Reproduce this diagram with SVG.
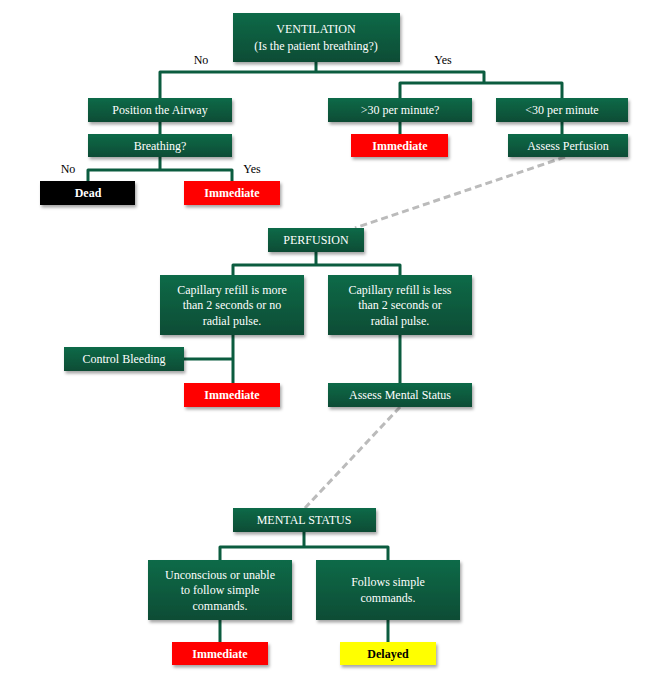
<svg xmlns="http://www.w3.org/2000/svg" width="670" height="687" viewBox="0 0 670 687">
<defs>
<linearGradient id="g" x1="0" y1="0" x2="0" y2="1"><stop offset="0" stop-color="#0c6a48"/><stop offset="1" stop-color="#0a4c35"/></linearGradient>
<filter id="sh" x="-10%" y="-10%" width="130%" height="150%"><feDropShadow dx="1.5" dy="2.5" stdDeviation="1.5" flood-color="#000" flood-opacity="0.35"/></filter>
</defs>
<style>
.b{fill:url(#g);filter:url(#sh)}
.r{fill:#ff0000;filter:url(#sh)}
.k{fill:#000;filter:url(#sh)}
.y{fill:#ffff00;filter:url(#sh)}
text{font-family:"Liberation Serif",serif;font-size:12px;text-anchor:middle}
.w{fill:#fff}
.bw{fill:#fff;font-weight:bold}
.bk{fill:#000;font-weight:bold}
.l{fill:#000}
.c{fill:none;stroke:#0b5c3f;stroke-width:3;stroke-linejoin:round}
.d{fill:none;stroke:#bbbbbb;stroke-width:3;stroke-dasharray:7,4}
</style>
<g id="connectors">
<path class="c" d="M316,62V72M160,98V72H484V83M400,98V83H562V98M160,122V134M400,122V134M562,122V134M160,157V170M88,181V170H232V181"/>
<path class="c" d="M316,252V265M233,275V265H400V275M233,335V383M184,359H233M400,335V383"/>
<path class="c" d="M304,532V547M220,560V547H388V560M220,620V642M388,620V642"/>
<path class="d" d="M565,157L355,228M400,407L305,508"/>
</g>
<text class="l" x="201" y="64">No</text>
<text class="l" x="443" y="64">Yes</text>
<text class="l" x="68" y="173">No</text>
<text class="l" x="252" y="173">Yes</text>
<g id="ventilation"><rect class="b" x="233" y="13" width="167" height="49"/><text class="w" x="316" y="33">VENTILATION</text><text class="w" x="316" y="50">(Is the patient breathing?)</text></g>
<g id="airway"><rect class="b" x="88" y="98" width="144" height="24"/><text class="w" x="160" y="114">Position the Airway</text></g>
<g id="over30"><rect class="b" x="328" y="98" width="144" height="24"/><text class="w" x="400" y="114">&gt;30 per minute?</text></g>
<g id="under30"><rect class="b" x="496" y="98" width="132" height="24"/><text class="w" x="562" y="114">&lt;30 per minute</text></g>
<g id="breathing"><rect class="b" x="88" y="134" width="144" height="23"/><text class="w" x="160" y="150">Breathing?</text></g>
<g id="imm1"><rect class="r" x="351" y="134" width="97" height="23"/><text class="bw" x="400" y="150">Immediate</text></g>
<g id="assessPerf"><rect class="b" x="508" y="134" width="120" height="23"/><text class="w" x="568" y="150">Assess Perfusion</text></g>
<g id="dead"><rect class="k" x="40" y="181" width="95" height="24"/><text class="bw" x="88" y="197">Dead</text></g>
<g id="imm2"><rect class="r" x="184" y="181" width="96" height="24"/><text class="bw" x="232" y="197">Immediate</text></g>
<g id="perfusion"><rect class="b" x="268" y="228" width="96" height="24"/><text class="w" x="316" y="244">PERFUSION</text></g>
<g id="capMore"><rect class="b" x="160" y="275" width="144" height="60"/><text class="w" x="232" y="294">Capillary refill is more</text><text class="w" x="232" y="309">than 2 seconds or no</text><text class="w" x="232" y="325">radial pulse.</text></g>
<g id="capLess"><rect class="b" x="328" y="275" width="144" height="60"/><text class="w" x="400" y="294">Capillary refill is less</text><text class="w" x="400" y="309">than 2 seconds or</text><text class="w" x="400" y="325">radial pulse.</text></g>
<g id="bleeding"><rect class="b" x="64" y="347" width="120" height="24"/><text class="w" x="124" y="363">Control Bleeding</text></g>
<g id="imm3"><rect class="r" x="184" y="383" width="96" height="24"/><text class="bw" x="232" y="399">Immediate</text></g>
<g id="assessMental"><rect class="b" x="328" y="383" width="144" height="24"/><text class="w" x="400" y="399">Assess Mental Status</text></g>
<g id="mental"><rect class="b" x="233" y="508" width="143" height="24"/><text class="w" x="304" y="524">MENTAL STATUS</text></g>
<g id="uncons"><rect class="b" x="148" y="560" width="144" height="60"/><text class="w" x="220" y="579">Unconscious or unable</text><text class="w" x="220" y="594">to follow simple</text><text class="w" x="220" y="610">commands.</text></g>
<g id="follows"><rect class="b" x="316" y="560" width="144" height="60"/><text class="w" x="388" y="586">Follows simple</text><text class="w" x="388" y="602">commands.</text></g>
<g id="imm4"><rect class="r" x="172" y="642" width="96" height="23"/><text class="bw" x="220" y="658">Immediate</text></g>
<g id="delayed"><rect class="y" x="340" y="642" width="96" height="23"/><text class="bk" x="388" y="658">Delayed</text></g>
</svg>
